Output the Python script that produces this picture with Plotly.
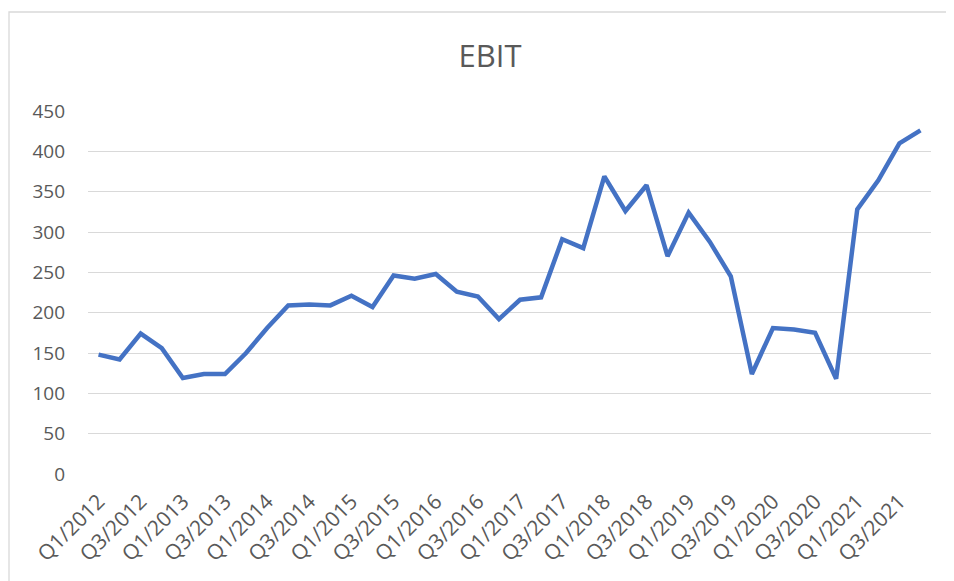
import plotly.graph_objects as go

quarters = [f"Q{q}/{y}" for y in range(2012, 2022) for q in range(1, 5)]
ebit = [148, 142, 174, 156, 119, 124, 124, 150, 181, 209,
        210, 209, 221, 207, 246, 242, 248, 226, 220, 192,
        216, 219, 291, 280, 369, 326, 358, 270, 324, 288,
        245, 124, 181, 179, 175, 118, 328, 364, 410, 426]
tick_labels = quarters[::2]
y_ticks = list(range(0, 451, 50))

font_family = "Open Sans, Lato, sans-serif"
fig = go.Figure()
fig.add_trace(go.Scatter(
    x=quarters, y=ebit, mode="lines",
    line=dict(color="#4472C4", width=4.5, shape="linear"),
    hoverinfo="x+y",
))

# page body has an 8px margin; compensate so the window coordinates match
OFF = 8
W, H = 954 - OFF, 581 - OFF
L, R, T, B = 88 - OFF, 954 - 931, 111 - OFF, 581 - 474
pw, ph = W - L - R, H - T - B

fig.update_layout(
    width=W, height=H,
    margin=dict(l=L, r=R, t=T, b=B),
    paper_bgcolor="white", plot_bgcolor="white",
    showlegend=False,
    title=dict(text="EBIT", x=(490 - OFF) / W, xref="container", xanchor="center",
               y=1 - (56 - OFF) / H, yref="container", yanchor="middle",
               font=dict(family=font_family, size=31, color="#595959")),
    font=dict(family=font_family, color="#595959"),
    xaxis=dict(type="category", range=[-0.5, len(quarters) - 0.5],
               tickmode="array", tickvals=tick_labels, ticktext=tick_labels,
               tickangle=-45, tickfont=dict(size=21, color="#595959"),
               showgrid=False, showline=False, ticks="", zeroline=False,
               ticklabelstandoff=10),
    yaxis=dict(range=[0, 450], tickmode="array", tickvals=y_ticks,
               tickfont=dict(size=19, color="#595959"),
               showgrid=True, gridcolor="#d9d9d9", gridwidth=1.3,
               zeroline=False, showline=False, ticks="",
               ticklabelstandoff=22),
    shapes=[dict(type="rect", xref="paper", yref="paper",
                 x0=(9 - 88) / pw, x1=(975 - 88) / pw,
                 y0=(474 - 600) / ph, y1=(474 - 12) / ph,
                 line=dict(color="#d9d9d9", width=1.3), fillcolor="rgba(0,0,0,0)",
                 layer="below")],
)

fig.write_html("out.html")
